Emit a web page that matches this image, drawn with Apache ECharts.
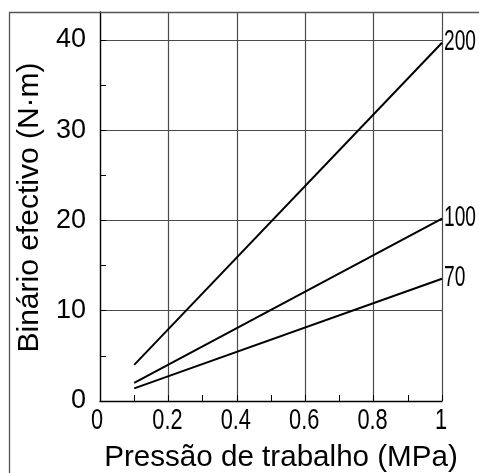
<!DOCTYPE html>
<html>
<head>
<meta charset="utf-8">
<script src="https://cdn.jsdelivr.net/npm/echarts@6/dist/echarts.min.js"></script>
<style>html,body{margin:0;padding:0;background:#fff}#c{width:479px;height:473px}</style>
</head>
<body>
<div id="c"></div>
<script>
// Data
var pressure = [0.1, 1];
var torque200 = [4, 39.7];
var torque100 = [2, 20.2];
var torque70 = [1.4, 13.55];
var seriesNames = ['200', '100', '70'];
var xTicks = [0, 0.2, 0.4, 0.6, 0.8, 1];
var yTicks = [0, 10, 20, 30, 40];
var xName = 'Pressão de trabalho (MPa)';
var yName = 'Binário efectivo (N·m)';

var FONT = 'Liberation Sans, Arial, sans-serif';

// detect a narrow font for the x tick labels
function hasFont(name) {
  var c = document.createElement('canvas').getContext('2d');
  var s = '0.2 0.4 0.6 Pressão';
  c.font = '40px monospace'; var a = c.measureText(s).width;
  c.font = '40px "' + name + '", monospace'; var b = c.measureText(s).width;
  c.font = '40px serif'; var a2 = c.measureText(s).width;
  c.font = '40px "' + name + '", serif'; var b2 = c.measureText(s).width;
  return a !== b || a2 !== b2;
}
var narrow = null;
['Liberation Sans Narrow', 'Arial Narrow'].forEach(function (n) { if (!narrow && hasFont(n)) narrow = n; });

var chart = echarts.init(document.getElementById('c'), null, {renderer: 'canvas'});
function pairs(xs, ys) { return xs.map(function (x, i) { return [x, ys[i]]; }); }
function fmtX(v) { var r = Math.round(v * 10) / 10; return xTicks.indexOf(r) >= 0 ? String(r) : ''; }

var gridColor = '#4a4a4a';
var option = {
  animation: false,
  backgroundColor: '#fff',
  grid: {left: 100, right: 37, top: 12, bottom: 72, containLabel: false},
  xAxis: [{
    type: 'value', min: 0, max: 1, interval: 0.2,
    axisLine: {show: true, lineStyle: {color: '#000', width: 1.3}},
    axisTick: {show: false},
    splitLine: {show: true, lineStyle: {color: gridColor, width: 1.2}},
    axisLabel: {
      show: !!narrow,
      color: '#000', fontFamily: narrow ? ('"' + narrow + '", ' + FONT) : FONT, fontSize: 29, margin: 5,
      formatter: fmtX
    }
  }, {
    type: 'value', min: 0, max: 1, interval: 0.1, position: 'bottom',
    axisLine: {show: false},
    axisTick: {show: true, inside: true, length: 6, lineStyle: {color: '#000', width: 1}},
    axisLabel: {show: false}, splitLine: {show: false}
  }],
  yAxis: [{
    type: 'value', min: 0, max: 43.1, interval: 10,
    axisLine: {show: true, lineStyle: {color: '#000', width: 1.3}},
    axisTick: {show: false},
    splitLine: {show: true, lineStyle: {color: gridColor, width: 1.2}},
    axisLabel: {
      color: '#000', fontFamily: FONT, fontSize: 27, margin: 14, showMaxLabel: false,
      formatter: function (v) { return yTicks.indexOf(v) >= 0 ? String(v) : ''; }
    }
  }, {
    type: 'value', min: 0, max: 43.1, interval: 5, position: 'left',
    axisLine: {show: false},
    axisTick: {show: true, inside: true, length: 6, lineStyle: {color: '#000', width: 1}},
    axisLabel: {show: false}, splitLine: {show: false}
  }],
  series: [
    {name: seriesNames[0], type: 'line', data: pairs(pressure, torque200), symbol: 'none', lineStyle: {color: '#000', width: 2}, xAxisIndex: 0, yAxisIndex: 0},
    {name: seriesNames[1], type: 'line', data: pairs(pressure, torque100), symbol: 'none', lineStyle: {color: '#000', width: 2}, xAxisIndex: 0, yAxisIndex: 0},
    {name: seriesNames[2], type: 'line', data: pairs(pressure, torque70), symbol: 'none', lineStyle: {color: '#000', width: 2}, xAxisIndex: 0, yAxisIndex: 0}
  ],
  graphic: [
    {id: 'borderTop', type: 'line', shape: {x1: 9, y1: 12.5, x2: 479, y2: 12.5}, style: {stroke: '#555', lineWidth: 1.3}, z: 10},
    {id: 'borderLeft', type: 'line', shape: {x1: 9.5, y1: 12, x2: 9.5, y2: 473}, style: {stroke: '#555', lineWidth: 1.3}, z: 10},
    {id: 'xName', type: 'text', x: 281, y: 458, style: {text: xName, fontFamily: FONT, fontSize: 29.6, fill: '#000', textAlign: 'center', textVerticalAlign: 'middle', align: 'center', verticalAlign: 'middle'}},
    {id: 'yName', type: 'text', x: 30, y: 207.5, rotation: Math.PI / 2, style: {text: yName, fontFamily: FONT, fontSize: 30, fill: '#000', textAlign: 'center', textVerticalAlign: 'middle', align: 'center', verticalAlign: 'middle'}}
  ]
};
chart.setOption(option);

// Text placed through the chart's own scales
var extra = [];
var ends = [torque200, torque100, torque70];
ends.forEach(function (arr, i) {
  var p = chart.convertToPixel({xAxisIndex: 0, yAxisIndex: 0}, [pressure[pressure.length - 1], arr[arr.length - 1]]);
  extra.push({
    id: 'lab' + i, type: 'text', x: p[0] + 2, y: p[1] - 1, scaleX: 0.66,
    style: {text: seriesNames[i], fontFamily: FONT, fontSize: 29, fill: '#000', textAlign: 'left', textVerticalAlign: 'middle', align: 'left', verticalAlign: 'middle'}
  });
});
if (!narrow) {
  xTicks.forEach(function (t, i) {
    var p = chart.convertToPixel({xAxisIndex: 0, yAxisIndex: 0}, [t, 0]);
    extra.push({
      id: 'xt' + i, type: 'text', x: p[0] - (t === 0 ? 3 : 1), y: p[1] + 19.5, scaleX: 0.75,
      style: {text: String(t), fontFamily: FONT, fontSize: 29, fill: '#000', textAlign: 'center', textVerticalAlign: 'middle', align: 'center', verticalAlign: 'middle'}
    });
  });
}
chart.setOption({graphic: extra});
</script>
</body>
</html>
